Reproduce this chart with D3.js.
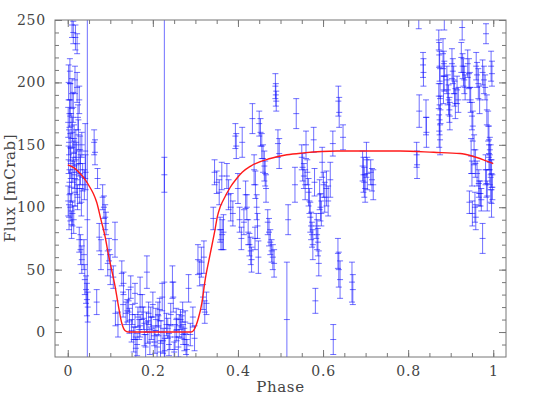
<!DOCTYPE html>
<html>
<head>
<meta charset="utf-8">
<script src="https://cdn.jsdelivr.net/npm/d3@7/dist/d3.min.js"></script>
<style>
  body { margin: 0; background: #fff; }
  svg { display: block; }
  text { font-family: "DejaVu Serif", "Liberation Serif", serif; fill: #444; }
</style>
</head>
<body>
<div id="chart"></div>
<script>
// observed light curve, one line per cluster of points
const phase = [
  0.010, 0.013, 0.018, 0.022, 0.002, 0.005, 0.010, 0.017, 0.022, 0.027, 0.006, 0.013, 0.004, 0.024,
  0.001, 0.008, 0.011, 0.015, 0.019, 0.003, 0.006, 0.025, 0.029, 0.033, 0.014, 0.020, 0.041,
  0.002, 0.007, 0.012, 0.016, 0.021, 0.026, 0.030, 0.035, 0.039, 0.042, 0.004, 0.009, 0.017, 0.023, 0.028, 0.032, 0.001, 0.006, 0.011, 0.014,
  0.003, 0.009, 0.027, 0.030, 0.033, 0.040, 0.043, 0.045, 0.047, 0.038, 0.046,
  0.062, 0.064, 0.070, 0.082, 0.085, 0.088, 0.090, 0.068, 0.074, 0.097, 0.111, 0.107, 0.127, 0.131, 0.148, 0.158, 0.170, 0.186, 0.078, 0.094, 0.100, 0.112, 0.118, 0.130, 0.137,
  0.140, 0.145, 0.150, 0.155, 0.160, 0.165, 0.170, 0.175, 0.180, 0.185, 0.190, 0.193, 0.197, 0.200, 0.203, 0.207, 0.210, 0.213, 0.216, 0.219, 0.222, 0.224, 0.227, 0.227, 0.228, 0.232,
  0.238, 0.242, 0.246, 0.248, 0.252, 0.256, 0.250, 0.265, 0.268, 0.271, 0.274, 0.278, 0.270, 0.284, 0.294, 0.288, 0.298,
  0.143, 0.152, 0.158, 0.163, 0.168, 0.178, 0.183, 0.188, 0.195, 0.205, 0.212, 0.218, 0.235, 0.240, 0.255, 0.260, 0.262, 0.276, 0.280,
  0.306, 0.310, 0.314, 0.318, 0.322, 0.326, 0.320, 0.342, 0.363, 0.345, 0.350, 0.356, 0.360, 0.358,
  0.362, 0.366, 0.374, 0.378, 0.383, 0.388, 0.394, 0.396, 0.400, 0.404, 0.408, 0.410, 0.414, 0.418, 0.421, 0.424, 0.427, 0.430, 0.434, 0.438, 0.441, 0.444, 0.446, 0.448,
  0.450, 0.453, 0.456, 0.459, 0.462, 0.464, 0.466, 0.470, 0.473, 0.476, 0.479, 0.482, 0.485, 0.488, 0.489, 0.490, 0.494, 0.497, 0.432, 0.440,
  0.515, 0.518, 0.534, 0.537, 0.550, 0.552, 0.555, 0.558, 0.560, 0.563, 0.566, 0.568, 0.570, 0.572, 0.574, 0.576, 0.578, 0.580, 0.582, 0.584,
  0.586, 0.588, 0.590, 0.592, 0.594, 0.596, 0.598, 0.601, 0.604, 0.608, 0.612, 0.617, 0.623, 0.624, 0.636, 0.638, 0.635, 0.637, 0.640, 0.647, 0.668, 0.670,
  0.693, 0.695, 0.697, 0.699, 0.702, 0.704, 0.712, 0.715, 0.718, 0.820, 0.821, 0.825, 0.826, 0.835, 0.836, 0.842, 0.843,
  0.872, 0.873, 0.874, 0.875, 0.872, 0.876, 0.874, 0.873, 0.875, 0.882, 0.884, 0.885, 0.883, 0.885, 0.891, 0.893, 0.895, 0.897, 0.898,
  0.903, 0.905, 0.907, 0.909, 0.911, 0.915, 0.918, 0.927, 0.925, 0.928, 0.930, 0.932, 0.934, 0.940, 0.943, 0.945, 0.947, 0.950, 0.952, 0.948,
  0.960, 0.962, 0.965, 0.968, 0.983, 0.975, 0.978, 0.981, 0.985, 0.988, 0.990, 0.992, 0.994, 0.996, 0.998, 0.995, 0.997,
  0.955, 0.958, 0.962, 0.966, 0.970, 0.944, 0.950, 0.951, 0.957, 0.959, 0.967, 0.972, 0.975, 0.982, 0.984, 0.986, 0.990, 0.992, 0.994, 0.996
]
const flux = [
  246, 240, 236, 231, 200, 209, 191, 202, 196, 186, 186, 180, 175, 172,
  168, 165, 160, 155, 150, 152, 148, 158, 146, 150, 143, 140, 145,
  138, 135, 130, 126, 122, 135, 130, 124, 118, 128, 120, 116, 112, 108, 115, 104, 105, 100, 95, 90,
  92, 86, 74, 66, 58, 42, 34, 26, 20, 62, 90,
  152, 144, 123, 108, 100, 92, 87, 24, 76, 66, 74, 44, 47, 39, 36, 31, 30, 48, 62, 55, 50, 15, 6, 22, 15,
  17, 9, 1, -6, -13, 12, 5, 20, -2, 8, 15, -8, 3, 22, -3, 10, -12, 5, 18, 0, 28, -7, 126, 40, -15, 6,
  -10, 14, 40, 28, -4, 2, -16, 10, 4, -2, -6, -10, 16, 35, 12, -2, -5,
  25, 14, 4, -10, 2, 11, -12, 0, 12, -8, 14, -16, 3, -4, 10, -12, 5, 8, -14,
  58, 47, 56, 28, 16, 23, 60, 91, 78, 128, 120, 112, 74, 82,
  125, 80, 125, 110, 100, 95, 157, 149, 115, 90, 75, 152, 88, 110, 100, 80, 70, 65, 171, 130, 118, 100, 85, 60,
  167, 160, 149, 139, 133, 127, 115, 88, 80, 72, 65, 60, 55, 197, 190, 185, 151, 143, 58, 75,
  10, 90, 118, 175, 140, 132, 125, 118, 150, 128, 112, 105, 92, 85, 78, 70, 154, 120, 25, 85,
  78, 72, 55, 110, 100, 95, 136, 118, 108, 115, 105, 122, 151, -6, 185, 176, 63, 50, 42, 156, 40, 34,
  133, 126, 120, 115, 138, 127, 128, 122, 118, 142, 134, 256, 177, 214, 208, 172, 160,
  234, 222, 213, 199, 189, 178, 170, 161, 154, 223, 215, 205, 194, 256, 202, 194, 186, 178, 173,
  215, 209, 202, 191, 183, 194, 186, 244, 220, 213, 208, 202, 196, 215, 207, 196, 186, 173, 165, 141,
  213, 206, 199, 186, 239, 208, 202, 196, 178, 165, 154, 146, 138, 127, 116, 213, 207,
  146, 135, 127, 119, 111, 104, 127, 95, 100, 92, 111, 106, 75, 130, 119, 109, 140, 130, 114, 103
]
const fluxErr = [
  10, 9, 10, 8, 14, 10, 12, 11, 12, 11, 13, 12, 11, 10,
  12, 10, 12, 11, 12, 10, 11, 12, 11, 10, 10, 12, 22,
  11, 12, 10, 11, 12, 10, 12, 11, 12, 14, 10, 12, 11, 10, 12, 11, 12, 11, 10, 11,
  10, 11, 10, 12, 11, 12, 11, 13, 12, 12, 400,
  10, 10, 8, 10, 9, 10, 9, 10, 11, 9, 14, 9, 10, 9, 9, 8, 14, 13, 12, 10, 12, 10, 10, 10, 9,
  9, 10, 9, 10, 9, 8, 9, 10, 9, 8, 9, 10, 9, 10, 8, 9, 10, 8, 9, 9, 11, 10, 14, 300, 10, 9,
  9, 9, 13, 12, 10, 9, 8, 8, 9, 8, 9, 8, 8, 11, 8, 9, 10,
  9, 8, 10, 9, 8, 9, 10, 9, 8, 9, 10, 9, 8, 10, 9, 8, 9, 9, 8,
  12, 10, 12, 10, 9, 9, 13, 9, 12, 10, 9, 10, 8, 10,
  11, 14, 10, 12, 11, 10, 10, 10, 12, 10, 9, 12, 10, 11, 10, 10, 9, 11, 12, 12, 11, 10, 10, 13,
  10, 11, 10, 11, 12, 10, 11, 10, 11, 10, 9, 10, 11, 10, 9, 8, 11, 12, 10, 9,
  46, 12, 14, 12, 10, 11, 10, 12, 11, 10, 11, 10, 12, 11, 10, 12, 10, 11, 10, 10,
  12, 11, 10, 12, 11, 10, 12, 10, 12, 14, 12, 14, 10, 12, 12, 12, 12, 14, 15, 10, 16, 12,
  12, 14, 12, 11, 14, 13, 10, 9, 12, 10, 11, 13, 13, 10, 11, 14, 12,
  8, 10, 12, 12, 10, 11, 12, 13, 12, 12, 10, 12, 11, 14, 11, 12, 12, 10, 11,
  12, 10, 11, 10, 12, 11, 10, 10, 12, 10, 11, 11, 10, 11, 12, 12, 10, 11, 12, 14,
  11, 10, 12, 11, 8, 10, 11, 10, 12, 12, 11, 10, 12, 11, 10, 12, 10,
  12, 11, 10, 11, 10, 9, 10, 10, 12, 10, 10, 9, 12, 12, 11, 12, 10, 12, 10, 11
]

// eclipse model curve
const modelPhase = [0, 0.015, 0.029, 0.042, 0.052, 0.060, 0.068, 0.078, 0.088, 0.095, 0.103, 0.111, 0.119, 0.127, 0.135, 0.142,
  0.290, 0.297, 0.307, 0.315, 0.323, 0.335, 0.345, 0.352, 0.358, 0.366, 0.382, 0.397, 0.410, 0.430,
  0.476, 0.515, 0.554, 0.633, 0.711, 0.781, 0.860, 0.922, 0.950, 0.977, 1.000]
const modelFlux = [134, 131.5, 127, 121.5, 116, 111, 104, 90, 76, 63, 50, 37, 21, 7, 1, 0,
  0, 2, 11, 23, 42, 63, 80, 93, 100, 106, 116, 123, 128, 133,
  139, 142, 143.5, 145, 145, 145, 144, 143, 141, 138, 135]

const xTicks = [0, 0.2, 0.4, 0.6, 0.8, 1]
const yTicks = [0, 50, 100, 150, 200, 250]

const width = 538, height = 403
const margin = { left: 55, right: 32, top: 20, bottom: 46 }

const svg = d3.select("#chart")
  .append("svg")
  .attr("width", width)
  .attr("height", height)

const x = d3.scaleLinear()
  .domain([-0.03, 1.03])
  .range([margin.left, width - margin.right])

const y = d3.scaleLinear()
  .domain([-20, 250])
  .range([height - margin.bottom, margin.top])

const plotW = width - margin.left - margin.right
const plotH = height - margin.top - margin.bottom

svg.append("clipPath").attr("id", "plot")
  .append("rect")
  .attr("x", margin.left).attr("y", margin.top)
  .attr("width", plotW).attr("height", plotH)

// data with error bars
const points = phase.map((p, i) => ({ p, f: flux[i], e: fluxErr[i] }))
const cap = 3

const bars = svg.append("g")
  .attr("clip-path", "url(#plot)")
  .attr("stroke", "#1010ff")
  .attr("stroke-opacity", 0.6)
  .attr("stroke-width", 1)
  .selectAll("g")
  .data(points)
  .enter()
  .append("g")

bars.append("line")
  .attr("x1", d => x(d.p)).attr("x2", d => x(d.p))
  .attr("y1", d => y(d.f - d.e)).attr("y2", d => y(d.f + d.e))

bars.append("line")
  .attr("x1", d => x(d.p) - cap).attr("x2", d => x(d.p) + cap)
  .attr("y1", d => y(d.f - d.e)).attr("y2", d => y(d.f - d.e))

bars.append("line")
  .attr("x1", d => x(d.p) - cap).attr("x2", d => x(d.p) + cap)
  .attr("y1", d => y(d.f + d.e)).attr("y2", d => y(d.f + d.e))

bars.append("line")
  .attr("x1", d => x(d.p) - cap).attr("x2", d => x(d.p) + cap)
  .attr("y1", d => y(d.f)).attr("y2", d => y(d.f))

// model
const model = modelPhase.map((p, i) => [p, modelFlux[i]])
svg.append("path")
  .datum(model)
  .attr("clip-path", "url(#plot)")
  .attr("fill", "none")
  .attr("stroke", "#ff1a1a")
  .attr("stroke-width", 1.4)
  .attr("d", d3.line().x(d => x(d[0])).y(d => y(d[1])).curve(d3.curveMonotoneX))

// axes, ticks inside on all four sides
const xMinor = d3.range(0, 1.0001, 0.05)
const yMinor = d3.range(-10, 250, 10)

function axis(gen, pos, ticks, size, labels) {
  const g = svg.append("g")
    .attr("transform", pos)
    .call(gen.tickValues(ticks).tickSizeInner(-size).tickSizeOuter(0)
      .tickPadding(9)
      .tickFormat(labels ? d3.format("") : ""))
  g.select(".domain").remove()
  g.selectAll("line").attr("stroke", "#777")
  g.selectAll("text").attr("font-size", 14).attr("letter-spacing", 0.8)
    .attr("font-family", "DejaVu Serif").attr("fill", "#444")
  return g
}

const atBottom = `translate(0,${height - margin.bottom})`
const atTop = `translate(0,${margin.top})`
const atLeft = `translate(${margin.left},0)`
const atRight = `translate(${width - margin.right},0)`

axis(d3.axisBottom(x), atBottom, xMinor, 4, false)
axis(d3.axisBottom(x), atBottom, xTicks, 7, true)
axis(d3.axisTop(x), atTop, xMinor, 4, false)
axis(d3.axisTop(x), atTop, xTicks, 7, false)
axis(d3.axisLeft(y), atLeft, yMinor, 4, false)
axis(d3.axisLeft(y), atLeft, yTicks, 7, true)
axis(d3.axisRight(y), atRight, yMinor, 4, false)
axis(d3.axisRight(y), atRight, yTicks, 7, false)

svg.append("rect")
  .attr("x", margin.left).attr("y", margin.top)
  .attr("width", plotW).attr("height", plotH)
  .attr("fill", "none")
  .attr("stroke", "#777")
  .attr("stroke-width", 1)

// labels
svg.append("text")
  .attr("x", (margin.left + width - margin.right) / 2)
  .attr("y", 392)
  .attr("text-anchor", "middle")
  .attr("font-size", 15)
  .attr("letter-spacing", 0.6)
  .text("Phase")

svg.append("text")
  .attr("transform", "translate(15,188) rotate(-90)")
  .attr("text-anchor", "middle")
  .attr("font-size", 15)
  .attr("letter-spacing", 0.6)
  .text("Flux [mCrab]")
</script>
</body>
</html>
